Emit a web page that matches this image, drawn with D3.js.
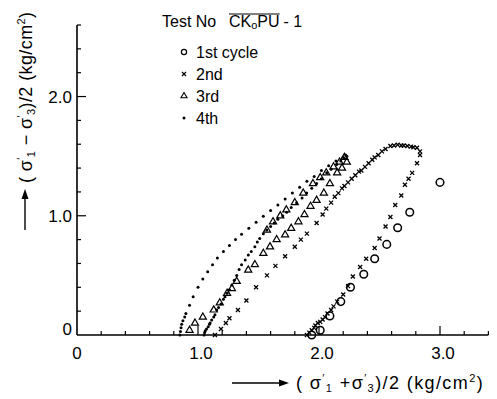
<!DOCTYPE html>
<html><head><meta charset="utf-8">
<script src="https://cdn.jsdelivr.net/npm/d3@7"></script>
<style>body{margin:0;background:#fff}svg{display:block}text{font-family:"Liberation Sans",Arial,sans-serif;fill:#000}</style>
</head><body><svg id="c" width="497" height="399"></svg>
<script>
// ---- data ----
const xTicks = [0, 1.0, 2.0, 3.0];
const xTickLabels = ["0", "1.0", "2.0", "3.0"];
const yTicks = [0, 1.0, 2.0];
const yTickLabels = ["0", "1.0", "2.0"];
const legendLabels = ["1st cycle", "2nd", "3rd", "4th"];

const cycle1 = [[1.94,0.0],[2.01,0.04],[2.09,0.16],[2.18,0.28],[2.26,0.40],[2.37,0.51],[2.46,0.64],[2.56,0.76],[2.65,0.90],[2.75,1.03],[3.00,1.28]];

const cycle2 = [[1.14,0.0],[1.19,0.05],[1.23,0.10],[1.26,0.14],[1.33,0.21],[1.40,0.29],[1.48,0.40],[1.57,0.50],[1.64,0.58],[1.72,0.66],[1.80,0.74],[1.85,0.80],[1.90,0.85],[1.98,0.94],[2.03,1.01],[2.06,1.06],[2.10,1.11],[2.13,1.16],[2.16,1.19],[2.19,1.23],[2.21,1.25],[2.24,1.28],[2.27,1.31],[2.30,1.34],[2.33,1.37],[2.35,1.38],[2.38,1.41],[2.41,1.44],[2.44,1.47],[2.46,1.49],[2.49,1.51],[2.52,1.54],[2.55,1.56],[2.59,1.585],[2.62,1.59],[2.65,1.595],[2.68,1.59],[2.70,1.59],[2.73,1.585],[2.76,1.58],[2.78,1.575],[2.81,1.57],[2.835,1.54],[2.835,1.51],
 [2.81,1.44],[2.77,1.36],[2.74,1.31],[2.71,1.26],[2.68,1.17],[2.63,1.09],[2.59,0.99],[2.55,0.91],[2.50,0.81],[2.46,0.73],[2.39,0.64],[2.34,0.57],[2.28,0.49],[2.24,0.41],[2.20,0.34],[2.15,0.28],[2.12,0.24],[2.10,0.21],[2.07,0.18],[2.05,0.15],[2.03,0.13],[2.01,0.11],[1.99,0.10],[1.97,0.08],[1.96,0.06],[1.94,0.04],[1.92,0.02],[1.90,0.0]];

const cycle3 = [[0.93,0.04],[0.975,0.10],[1.04,0.15],[1.13,0.21],[1.18,0.27],[1.24,0.35],[1.28,0.39],[1.32,0.45],[1.415,0.545],[1.47,0.59],[1.54,0.685],[1.595,0.74],[1.65,0.80],[1.72,0.84],[1.77,0.895],[1.83,0.95],[1.88,1.01],[1.93,1.08],[1.98,1.13],[2.04,1.19],[2.09,1.27],[2.15,1.36],[2.19,1.40],[2.23,1.45],
 [1.57,0.88],[1.62,0.95],[1.68,1.00],[1.73,1.05],[1.80,1.11],[1.87,1.19],[1.95,1.27],[2.01,1.32],[2.06,1.36],[2.12,1.41],[2.17,1.45],[2.21,1.49]];

const cycle4 = [[0.85,0.0],[0.855,0.03],[0.86,0.06],[0.865,0.09],[0.875,0.12],[0.89,0.15],[0.90,0.18],[0.93,0.25],[0.96,0.32],[1.0,0.40],[1.04,0.47],[1.08,0.53],[1.12,0.59],[1.16,0.645],[1.21,0.70],[1.26,0.75],[1.31,0.80],[1.36,0.845],[1.42,0.895],[1.48,0.945],[1.54,0.995],[1.60,1.045],[1.66,1.09],[1.72,1.14],[1.78,1.19],[1.84,1.24],[1.90,1.29],[1.96,1.33],[2.02,1.38],[2.08,1.42],[2.14,1.46],
 [1.05,0.0],[1.055,0.02],[1.06,0.035],[1.07,0.05],[1.085,0.07],[1.095,0.09],[1.10,0.10],[1.113,0.126],[1.13,0.15],[1.14,0.17],[1.155,0.21],[1.17,0.23],[1.19,0.26],[1.21,0.30],[1.223,0.32],[1.24,0.35],[1.26,0.38],[1.28,0.42],[1.30,0.46],[1.32,0.50],[1.34,0.55],[1.36,0.59],[1.39,0.63],[1.416,0.67],[1.44,0.70],[1.47,0.74],[1.49,0.78],[1.51,0.81],[1.54,0.85],[1.568,0.88],[1.60,0.91],[1.63,0.94],[1.66,0.97],[1.70,1.00],[1.733,1.03],[1.77,1.07],[1.815,1.11],[1.86,1.15],[1.898,1.19],[1.94,1.23],[1.98,1.27],[2.02,1.31],[2.064,1.36],[2.10,1.39],[2.146,1.43],[2.18,1.46],[2.21,1.48],[2.23,1.50],[2.22,1.51],[2.20,1.49]];

// ---- drawing ----
const svg = d3.select("#c");
const x = d3.scaleLinear().domain([0, 3.4]).range([77, 488.4]);
const y = d3.scaleLinear().domain([0, 2.6]).range([335, 25]);

// axes lines
const ax = svg.append("g").attr("stroke", "#000").attr("stroke-width", 1.6).attr("fill", "none");
ax.append("line").attr("x1", x(0)).attr("x2", x(3.4)).attr("y1", y(0)).attr("y2", y(0));
ax.append("line").attr("x1", x(0)).attr("x2", x(0)).attr("y1", y(0)).attr("y2", y(2.6));
const xMinor = d3.range(0.2, 3.41, 0.2);
xMinor.forEach(v => {
  const major = Math.abs(v - Math.round(v)) < 1e-6;
  ax.append("line").attr("x1", x(v)).attr("x2", x(v)).attr("y1", y(0)).attr("y2", y(0) - (major ? 9 : 4)).attr("stroke-width", 1.2);
});
const yMinor = d3.range(0.2, 2.61, 0.2);
yMinor.forEach(v => {
  const major = Math.abs(v - Math.round(v)) < 1e-6;
  ax.append("line").attr("y1", y(v)).attr("y2", y(v)).attr("x1", x(0)).attr("x2", x(0) + (major ? 9 : 4)).attr("stroke-width", 1.2);
});

// tick labels
svg.append("g").selectAll("text").data(xTicks).join("text")
  .attr("x", d => x(d) + (d === 0 ? 0 : 3)).attr("y", 359).attr("text-anchor", "middle")
  .attr("font-size", 17).text((d, i) => xTickLabels[i]);
svg.append("g").selectAll("text").data(yTicks).join("text")
  .attr("x", 72).attr("y", d => y(d) + 6 - (d === 0 ? 6 : 0)).attr("text-anchor", "end")
  .attr("font-size", 17).text((d, i) => yTickLabels[i]);

// markers
const g = svg.append("g");
g.selectAll(".c1").data(cycle1).join("circle")
  .attr("cx", d => x(d[0])).attr("cy", d => y(d[1])).attr("r", 3.8)
  .attr("fill", "none").attr("stroke", "#000").attr("stroke-width", 1.5);
const xs = 2.0;
g.selectAll(".c2").data(cycle2).join("path")
  .attr("d", d => { const cx = x(d[0]), cy = y(d[1]); return `M${cx-xs},${cy-xs}L${cx+xs},${cy+xs}M${cx-xs},${cy+xs}L${cx+xs},${cy-xs}`; })
  .attr("stroke", "#000").attr("stroke-width", 1.3).attr("fill", "none");
const tri = d3.symbol().type(d3.symbolTriangle).size(22);
g.selectAll(".c3").data(cycle3).join("path")
  .attr("d", tri).attr("transform", d => `translate(${x(d[0])},${y(d[1])})`)
  .attr("fill", "none").attr("stroke", "#000").attr("stroke-width", 1.2);
g.selectAll(".c4").data(cycle4).join("circle")
  .attr("cx", d => x(d[0])).attr("cy", d => y(d[1])).attr("r", 1.5).attr("fill", "#000");

// legend
const lg = svg.append("g");
lg.append("text").attr("x", 162).attr("y", 27).attr("font-size", 16).text("Test  No");
const code = lg.append("text").attr("x", 229).attr("y", 27).attr("font-size", 16);
code.append("tspan").text("CK");
code.append("tspan").attr("font-size", 11).attr("dy", 2).text("o");
code.append("tspan").attr("dy", -2).text("PU");
const cb = code.node().getBBox();
lg.append("line").attr("x1", cb.x).attr("x2", cb.x + cb.width).attr("y1", cb.y + 1).attr("y2", cb.y + 1).attr("stroke", "#000").attr("stroke-width", 1.2);
lg.append("text").attr("x", cb.x + cb.width + 4).attr("y", 27).attr("font-size", 16).text("- 1");

const rowY = [52, 74, 96, 118];
const mx = 184;
lg.append("circle").attr("cx", mx).attr("cy", rowY[0]).attr("r", 2.6).attr("fill", "none").attr("stroke", "#000").attr("stroke-width", 1.2);
lg.append("path").attr("d", `M${mx-2},${rowY[1]-2}L${mx+2},${rowY[1]+2}M${mx-2},${rowY[1]+2}L${mx+2},${rowY[1]-2}`).attr("stroke", "#000").attr("stroke-width", 1.2);
lg.append("path").attr("d", d3.symbol().type(d3.symbolTriangle).size(16)).attr("transform", `translate(${mx},${rowY[2]})`).attr("fill", "none").attr("stroke", "#000").attr("stroke-width", 1.1);
lg.append("circle").attr("cx", mx).attr("cy", rowY[3]).attr("r", 1.5).attr("fill", "#000");
lg.selectAll(".lt").data(legendLabels).join("text")
  .attr("x", 196).attr("y", (d, i) => rowY[i] + 6).attr("font-size", 16).text(d => d);

// axis titles (one text element each, sub/superscripts as tspans)
function sigmaTitle(sel, op) {
  sel.append("tspan").text("( σ");
  sel.append("tspan").attr("font-size", 11).attr("dy", -7).text("′");
  sel.append("tspan").attr("font-size", 11).attr("dy", 10).text("1");
  sel.append("tspan").attr("dy", -3).text(op + "σ");
  sel.append("tspan").attr("font-size", 11).attr("dy", -7).text("′");
  sel.append("tspan").attr("font-size", 11).attr("dy", 10).text("3");
  sel.append("tspan").attr("dy", -3).text(")/2  (kg/cm");
  sel.append("tspan").attr("font-size", 11).attr("dy", -7).text("2");
  sel.append("tspan").attr("dy", 7).text(")");
}
// x title
const xt = svg.append("text").attr("x", 296).attr("y", 389).attr("font-size", 18).attr("letter-spacing", 1.4);
sigmaTitle(xt, " +");
svg.append("line").attr("x1", 232).attr("x2", 280).attr("y1", 383).attr("y2", 383).attr("stroke", "#000").attr("stroke-width", 1.4);
svg.append("path").attr("d", "M289,383L279,379.5L279,386.5Z").attr("fill", "#000");
// y title
const ytg = svg.append("g").attr("transform", "translate(32,183) rotate(-90)");
const yt = ytg.append("text").attr("x", 0).attr("y", 0).attr("font-size", 18).attr("letter-spacing", 0.4);
sigmaTitle(yt, " − ");
svg.append("line").attr("x1", 25).attr("x2", 25).attr("y1", 230).attr("y2", 197).attr("stroke", "#000").attr("stroke-width", 1.4);
svg.append("path").attr("d", "M25,189L21.5,199L28.5,199Z").attr("fill", "#000");
</script></body></html>
